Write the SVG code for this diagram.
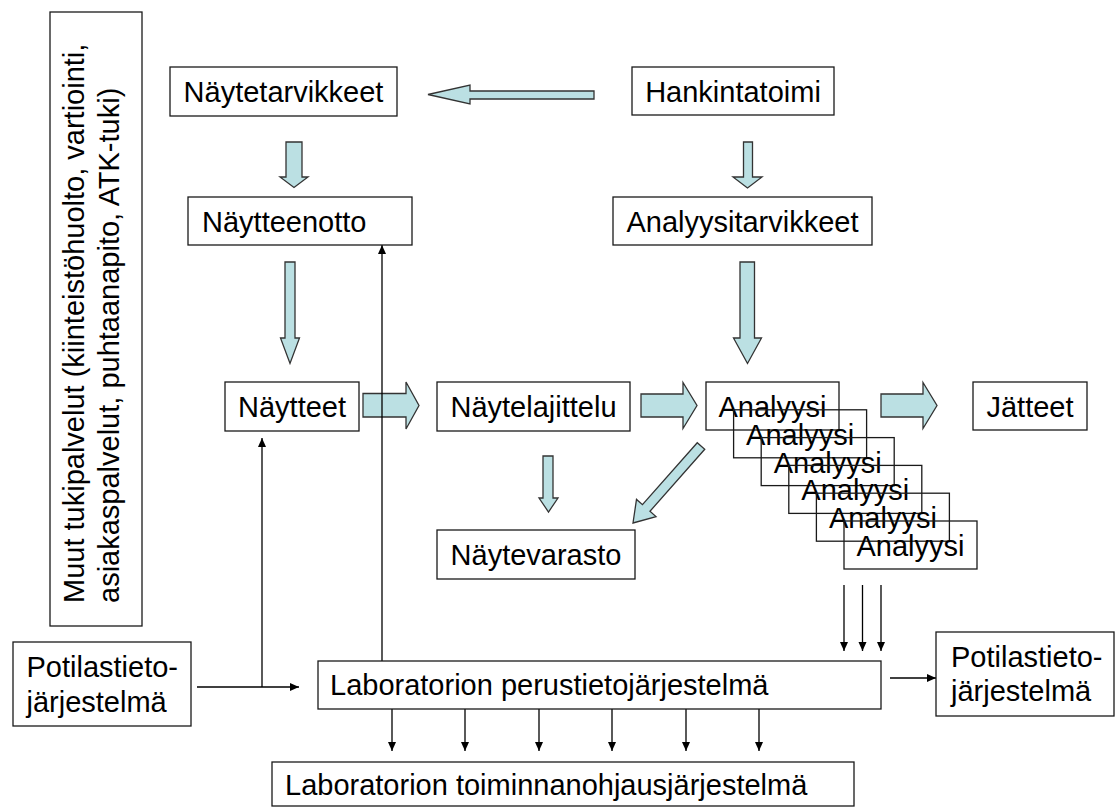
<svg xmlns="http://www.w3.org/2000/svg" width="1119" height="807" viewBox="0 0 1119 807">
<style>
  .box { fill: none; stroke: #1a1a1a; stroke-width: 1.3; }
  .t { font-family: "Liberation Sans", Arial, sans-serif; font-size: 29px; fill: #000; }
  .m { text-anchor: middle; }
  .blk { fill: #BBE0E3; stroke: #333; stroke-width: 1.3; stroke-linejoin: miter; }
  .ln { fill: none; stroke: #000; stroke-width: 1.3; }
</style>
<defs>
  <marker id="ah" markerUnits="userSpaceOnUse" markerWidth="10" markerHeight="10" refX="9" refY="4" orient="auto">
    <path d="M0,0 L9,4 L0,8 z" fill="#000"/>
  </marker>
</defs>
<rect width="1119" height="807" fill="#fff"/>

<g id="connectors">
  <!-- block arrows -->
  <polygon class="blk" points="594,91 470,91 470,85 428,94.5 470,104 470,99 594,99"/>
  <polygon class="blk" points="286,142 302,142 302,177 308,177 294,187.5 280,177 286,177"/>
  <polygon class="blk" points="743.5,142 752.5,142 752.5,177 762,177 747.5,188 733,177 743.5,177"/>
  <polygon class="blk" points="285,262 295,262 295,338 299.5,338 290,363.5 280.5,338 285,338"/>
  <polygon class="blk" points="740,262 754.5,262 754.5,338 761.5,338 747.5,363.5 733.5,338 740,338"/>
  <polygon class="blk" points="363,393.5 406,393.5 406,382 419,405.5 406,429 406,417 363,417"/>
  <polygon class="blk" points="641,394 683,394 683,382.5 697,405.5 683,428.5 683,417 641,417"/>
  <polygon class="blk" points="881,394 923,394 923,382.5 937,405.5 923,428.5 923,417 881,417"/>
  <polygon class="blk" points="543,456 553,456 553,498 558,498 548.5,512 539,498 543,498"/>
  <polygon class="blk" points="704.75,449.3 649.95,511.3 656,516.6 633,523 636.5,499.4 642.45,504.7 697.25,442.7"/>
  <!-- thin line connectors -->
  <line class="ln" x1="382" y1="661" x2="382" y2="245" marker-end="url(#ah)"/>
  <line class="ln" x1="197" y1="687" x2="299" y2="687" marker-end="url(#ah)"/>
  <line class="ln" x1="262" y1="687" x2="262" y2="438" marker-end="url(#ah)"/>
  <line class="ln" x1="890" y1="678" x2="936" y2="678" marker-end="url(#ah)"/>
  <line class="ln" x1="844" y1="585" x2="844" y2="651" marker-end="url(#ah)"/>
  <line class="ln" x1="862.5" y1="585" x2="862.5" y2="651" marker-end="url(#ah)"/>
  <line class="ln" x1="881" y1="585" x2="881" y2="651" marker-end="url(#ah)"/>
  <line class="ln" x1="392" y1="709" x2="392" y2="751" marker-end="url(#ah)"/>
  <line class="ln" x1="465" y1="709" x2="465" y2="751" marker-end="url(#ah)"/>
  <line class="ln" x1="539" y1="709" x2="539" y2="751" marker-end="url(#ah)"/>
  <line class="ln" x1="612" y1="709" x2="612" y2="751" marker-end="url(#ah)"/>
  <line class="ln" x1="686" y1="709" x2="686" y2="751" marker-end="url(#ah)"/>
  <line class="ln" x1="759" y1="709" x2="759" y2="751" marker-end="url(#ah)"/>
</g>

<g id="muut-tukipalvelut">
  <rect class="box" x="50" y="12" width="92" height="614"/>
  <text class="t" transform="translate(84,603) rotate(-90)">Muut tukipalvelut (kiinteistöhuolto, vartiointi,<tspan x="0" dy="34.5">asiakaspalvelut, puhtaanapito, ATK-tuki)</tspan></text>
</g>
<g id="naytetarvikkeet">
  <rect class="box" x="170" y="67" width="227" height="49"/>
  <text class="t m" x="283.5" y="102">Näytetarvikkeet</text>
</g>
<g id="hankintatoimi">
  <rect class="box" x="632" y="67" width="202" height="48"/>
  <text class="t m" x="733" y="101.5">Hankintatoimi</text>
</g>
<g id="naytteenotto">
  <rect class="box" x="188" y="197" width="224" height="48"/>
  <text class="t" x="202" y="231.5">Näytteenotto</text>
</g>
<g id="analyysitarvikkeet">
  <rect class="box" x="613" y="197" width="259" height="48"/>
  <text class="t m" x="742.5" y="231.5">Analyysitarvikkeet</text>
</g>
<g id="naytteet">
  <rect class="box" x="225" y="382" width="134" height="49"/>
  <text class="t m" x="292" y="417">Näytteet</text>
</g>
<g id="naytelajittelu">
  <rect class="box" x="437" y="382" width="193" height="49"/>
  <text class="t m" x="533.5" y="417">Näytelajittelu</text>
</g>
<g id="analyysi">
  <rect class="box" x="706" y="382" width="133" height="48"/>
  <text class="t m" x="772.5" y="417">Analyysi</text>
  <rect class="box" x="733.6" y="409.8" width="133" height="48"/>
  <text class="t m" x="800.1" y="444.8">Analyysi</text>
  <rect class="box" x="761.2" y="437.6" width="133" height="48"/>
  <text class="t m" x="827.7" y="472.6">Analyysi</text>
  <rect class="box" x="788.8" y="465.4" width="133" height="48"/>
  <text class="t m" x="855.3" y="500.4">Analyysi</text>
  <rect class="box" x="816.4" y="493.2" width="133" height="48"/>
  <text class="t m" x="882.9" y="528.2">Analyysi</text>
  <rect class="box" x="844" y="521" width="133" height="48"/>
  <text class="t m" x="910.5" y="556">Analyysi</text>
</g>
<g id="jatteet">
  <rect class="box" x="973" y="382" width="114" height="48"/>
  <text class="t m" x="1030" y="417">Jätteet</text>
</g>
<g id="naytevarasto">
  <rect class="box" x="437" y="530" width="198" height="49"/>
  <text class="t m" x="536" y="565">Näytevarasto</text>
</g>
<g id="potilastieto-in">
  <rect class="box" x="13" y="642" width="178" height="84"/>
  <text class="t" x="26.5" y="677">Potilastieto-</text>
  <text class="t" x="26.5" y="712">järjestelmä</text>
</g>
<g id="laboratorion-perustieto">
  <rect class="box" x="318" y="661" width="563" height="48"/>
  <text class="t" x="330" y="695">Laboratorion perustietojärjestelmä</text>
</g>
<g id="potilastieto-out">
  <rect class="box" x="936" y="632" width="178" height="84"/>
  <text class="t" x="951" y="667">Potilastieto-</text>
  <text class="t" x="951" y="701">järjestelmä</text>
</g>
<g id="laboratorion-toiminnanohjaus">
  <rect class="box" x="272" y="762" width="582" height="44"/>
  <text class="t" x="285" y="795">Laboratorion toiminnanohjausjärjestelmä</text>
</g>
</svg>
